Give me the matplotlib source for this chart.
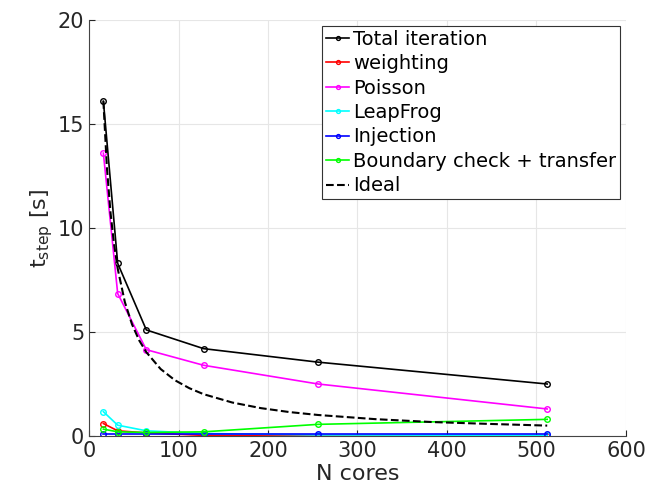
import matplotlib.pyplot as plt

# cores used in the scaling runs
cores = [16, 32, 64, 128, 256, 512]

# time per step [s] for each phase
total = [16.1, 8.3, 5.1, 4.2, 3.55, 2.5]
weighting = [0.6, 0.25, 0.15, 0.03, 0.0, 0.0]
poisson = [13.6, 6.85, 4.15, 3.4, 2.5, 1.3]
leapfrog = [1.17, 0.52, 0.25, 0.12, 0.05, 0.03]
injection = [0.12, 0.12, 0.12, 0.12, 0.12, 0.12]
boundary = [0.33, 0.2, 0.17, 0.2, 0.56, 0.8]

# ideal scaling curve
ideal_cores = [16, 20, 24, 28, 32, 40, 48, 56, 64, 80, 96, 112, 128,
               160, 192, 224, 256, 320, 384, 448, 512]
ideal = [16.1, 12.88, 10.73, 9.2, 8.05, 6.44, 5.37, 4.6, 4.03, 3.22, 2.68, 2.3, 2.01,
         1.61, 1.34, 1.15, 1.01, 0.81, 0.67, 0.58, 0.5]

fig = plt.figure(figsize=(6.5, 5), dpi=100)
ax = fig.add_axes([0.137, 0.128, 0.826, 0.832])

ms = 4
ax.plot(cores, total, '-o', color='black', ms=ms, mfc='none', lw=1.2, label='Total iteration')
ax.plot(cores, weighting, '-o', color='red', ms=ms, mfc='none', lw=1.2, label='weighting')
ax.plot(cores, poisson, '-o', color='magenta', ms=ms, mfc='none', lw=1.2, label='Poisson')
ax.plot(cores, leapfrog, '-o', color='cyan', ms=ms, mfc='none', lw=1.2, label='LeapFrog')
ax.plot(cores, injection, '-o', color='blue', ms=ms, mfc='none', lw=1.2, label='Injection')
ax.plot(cores, boundary, '-o', color='lime', ms=ms, mfc='none', lw=1.2, label='Boundary check + transfer')
ax.plot(ideal_cores, ideal, '--', color='black', lw=1.5, label='Ideal')

ax.set_xlim(0, 600)
ax.set_ylim(0, 20)
ax.set_xticks([0, 100, 200, 300, 400, 500, 600])
ax.set_yticks([0, 5, 10, 15, 20])
ax.grid(True, color='#e6e6e6', lw=0.8)
ax.set_axisbelow(True)
for s in ['top', 'right']:
    ax.spines[s].set_visible(False)
for s in ['left', 'bottom']:
    ax.spines[s].set_color('#444444')
ax.tick_params(labelsize=15, colors='#262626', direction='in', length=4)

ax.set_xlabel('N cores', fontsize=16, color='#262626', labelpad=2)
ax.set_ylabel(r'$\mathregular{t_{step}}$ [s]', fontsize=16, color='#262626', labelpad=2)

leg = ax.legend(loc='upper right', fontsize=14, handlelength=1.2, handletextpad=0.2,
                labelspacing=0.28, borderpad=0.2, borderaxespad=0.3, fancybox=False,
                framealpha=1, edgecolor='#333333', markerscale=0.7)
leg.get_frame().set_linewidth(0.8)

fig.savefig('out.png')
